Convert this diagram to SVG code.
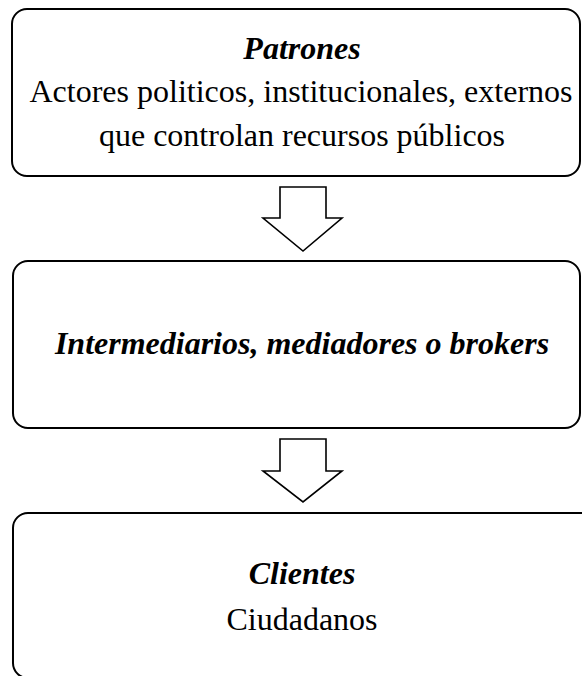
<svg xmlns="http://www.w3.org/2000/svg" width="582" height="676" viewBox="0 0 582 676">
<style>
.box{fill:#fff;stroke:#000;stroke-width:2}
.arr{fill:#fff;stroke:#000;stroke-width:1.6;stroke-linejoin:miter}
text{font-family:"Liberation Serif","Times New Roman",serif;font-size:32px;fill:#000;text-anchor:middle}
.t{font-weight:bold;font-style:italic}
</style>
<rect width="582" height="676" fill="#fff"/>
<g id="patrones">
<rect class="box" x="12" y="9" width="568" height="167" rx="15"/>
<text class="t" x="302" y="59">Patrones</text>
<text x="301" y="102">Actores politicos, institucionales, externos</text>
<text x="302" y="146">que controlan recursos públicos</text>
</g>
<g id="intermediarios">
<rect class="box" x="13" y="261" width="567" height="167" rx="15"/>
<text class="t" x="302" y="354">Intermediarios, mediadores o brokers</text>
</g>
<g id="clientes">
<rect class="box" x="13" y="513" width="600" height="165" rx="15"/>
<text class="t" x="302" y="584">Clientes</text>
<text x="302" y="630">Ciudadanos</text>
</g>
<g id="connectors">
<path class="arr" d="M280,187 H326 V218 H342 L303,251 L263,218 H280 Z"/>
<path class="arr" d="M280,439 H326 V471 H342 L303,502 L263,471 H280 Z"/>
</g>
</svg>
